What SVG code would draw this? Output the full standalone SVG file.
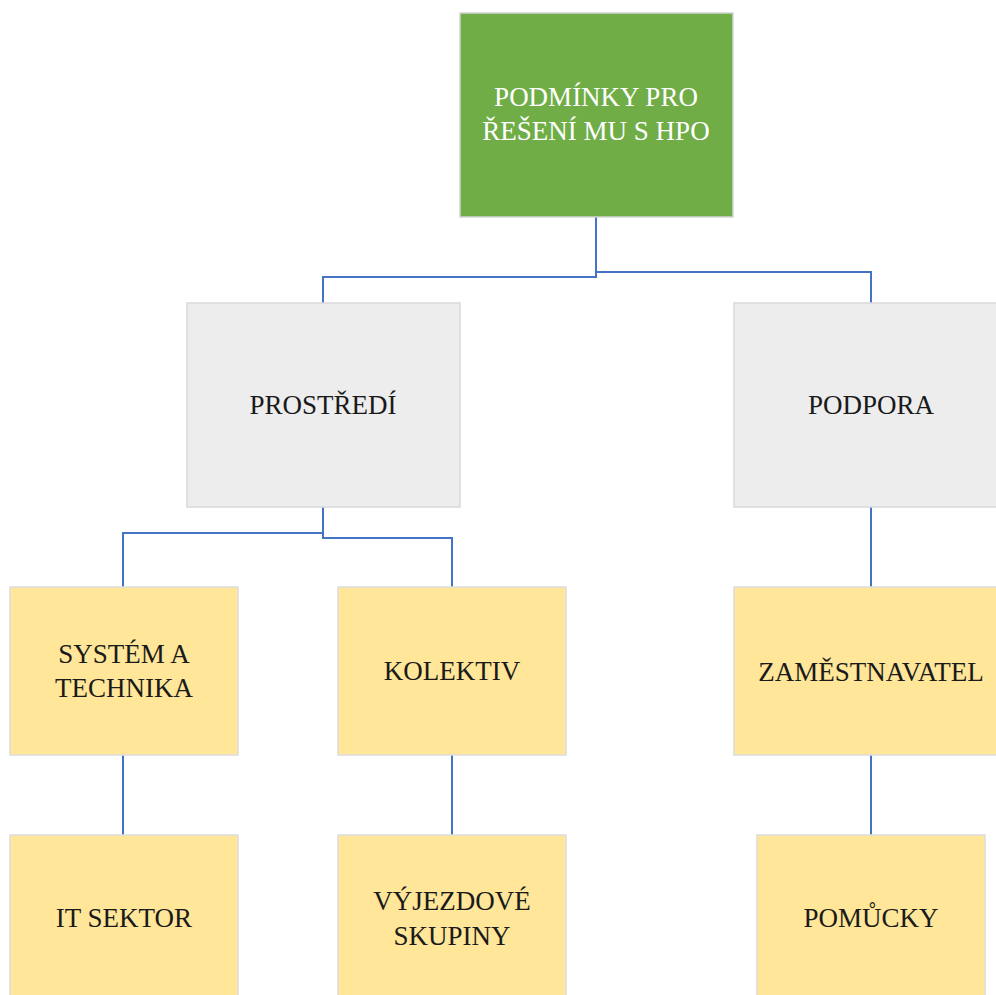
<svg xmlns="http://www.w3.org/2000/svg" width="996" height="995" viewBox="0 0 996 995">
  <style>
    .box { stroke-width: 1.5; }
    .root { fill: #70AD47; stroke: #d4d4d4; }
    .mid { fill: #EDEDED; stroke: #d9d9d9; }
    .leaf { fill: #FFE699; stroke: #dcdcdc; }
    .lbl { font-size: 27px; text-anchor: middle; fill: #1a1a1a; }
    .lbl.light { fill: #ffffff; }
    .conn { fill: none; stroke: #4472C4; stroke-width: 2; }
  </style>
  <rect width="996" height="995" fill="#ffffff"/>

  <g id="connectors">
    <path class="conn" d="M596 217 V277 H323 V303"/>
    <path class="conn" d="M596 272 H871 V303"/>
    <path class="conn" d="M323 507 V533 H123 V587"/>
    <path class="conn" d="M323 533 V538 H452 V587"/>
    <path class="conn" d="M871 507 V587"/>
    <path class="conn" d="M123 755 V835"/>
    <path class="conn" d="M452 755 V835"/>
    <path class="conn" d="M871 755 V835"/>
  </g>

  <g font-family="'Liberation Serif', 'Times New Roman', 'DejaVu Serif', serif">
    <g id="node-root">
      <rect class="box root" x="460" y="13" width="273" height="204"/>
      <text class="lbl light" x="596" y="106">PODMÍNKY PRO</text>
      <text class="lbl light" x="596" y="140">ŘEŠENÍ MU S HPO</text>
    </g>

    <g id="node-prostredi">
      <rect class="box mid" x="187" y="303" width="273" height="204"/>
      <text class="lbl" x="323" y="414">PROSTŘEDÍ</text>
    </g>

    <g id="node-podpora">
      <rect class="box mid" x="734" y="303" width="273" height="204"/>
      <text class="lbl" x="871" y="414">PODPORA</text>
    </g>

    <g id="node-system">
      <rect class="box leaf" x="10" y="587" width="228" height="168"/>
      <text class="lbl" x="124" y="663">SYSTÉM A</text>
      <text class="lbl" x="124" y="697">TECHNIKA</text>
    </g>

    <g id="node-kolektiv">
      <rect class="box leaf" x="338" y="587" width="228" height="168"/>
      <text class="lbl" x="452" y="680">KOLEKTIV</text>
    </g>

    <g id="node-zamestnavatel">
      <rect class="box leaf" x="734" y="587" width="273" height="168"/>
      <text class="lbl" x="871" y="681">ZAMĚSTNAVATEL</text>
    </g>

    <g id="node-it-sektor">
      <rect class="box leaf" x="10" y="835" width="228" height="180"/>
      <text class="lbl" x="124" y="927">IT SEKTOR</text>
    </g>

    <g id="node-vyjezdove">
      <rect class="box leaf" x="338" y="835" width="228" height="180"/>
      <text class="lbl" x="452" y="910">VÝJEZDOVÉ</text>
      <text class="lbl" x="452" y="945">SKUPINY</text>
    </g>

    <g id="node-pomucky">
      <rect class="box leaf" x="757" y="835" width="228" height="180"/>
      <text class="lbl" x="871" y="927">POMŮCKY</text>
    </g>
  </g>
</svg>
